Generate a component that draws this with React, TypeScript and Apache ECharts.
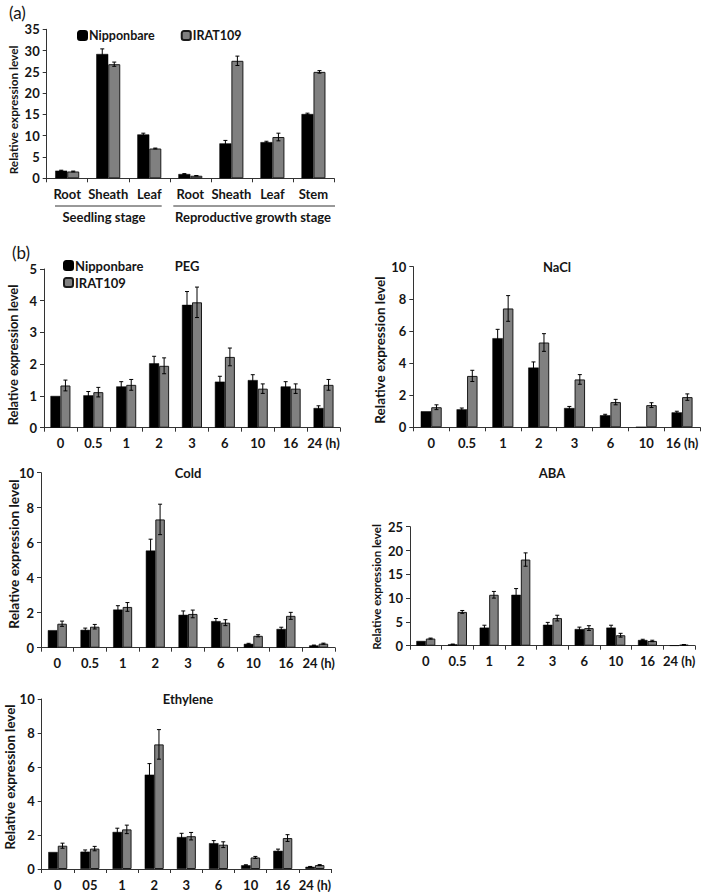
import React, { useEffect, useRef } from "react";
import * as echarts from "echarts";

// ---- Panel (a) ----
const catA = ["Root", "Sheath", "Leaf", "Root", "Sheath", "Leaf", "Stem"];
const aNip = [1.8, 29.2, 10.3, 1.0, 8.2, 8.5, 15.1];
const aNipErr = [0.1, 1.2, 0.3, 0.1, 0.7, 0.2, 0.2];
const aIr = [1.6, 26.8, 7.0, 0.6, 27.6, 9.7, 25.0];
const aIrErr = [0.1, 0.5, 0.1, 0.05, 1.1, 0.9, 0.3];

// ---- Panel (b) ----
const timesPEG = ["0", "0.5", "1", "2", "3", "6", "10", "16", "24 (h)"];
const pegNip = [1.0, 1.02, 1.3, 2.03, 3.87, 1.45, 1.5, 1.3, 0.62];
const pegNipErr = [0, 0.12, 0.15, 0.22, 0.42, 0.17, 0.17, 0.15, 0.07];
const pegIr = [1.33, 1.12, 1.35, 1.95, 3.95, 2.23, 1.23, 1.23, 1.35];
const pegIrErr = [0.17, 0.15, 0.17, 0.25, 0.48, 0.28, 0.15, 0.15, 0.17];

const timesNaCl = ["0", "0.5", "1", "2", "3", "6", "10", "16 (h)"];
const naclNip = [1.0, 1.12, 5.55, 3.72, 1.2, 0.75, 0.02, 0.93];
const naclNipErr = [0, 0.08, 0.55, 0.35, 0.1, 0.06, 0, 0.07];
const naclIr = [1.25, 3.2, 7.4, 5.28, 2.98, 1.57, 1.38, 1.88];
const naclIrErr = [0.15, 0.35, 0.8, 0.55, 0.3, 0.17, 0.15, 0.2];

const timesCold = ["0", "0.5", "1", "2", "3", "6", "10", "16", "24 (h)"];
const coldNip = [1.0, 1.02, 2.18, 5.55, 1.88, 1.52, 0.22, 1.07, 0.13];
const coldNipErr = [0, 0.1, 0.22, 0.65, 0.22, 0.15, 0.03, 0.1, 0.02];
const coldIr = [1.37, 1.2, 2.33, 7.33, 1.93, 1.43, 0.68, 1.82, 0.23];
const coldIrErr = [0.15, 0.13, 0.25, 0.87, 0.22, 0.17, 0.06, 0.2, 0.03];

const timesABA = ["0", "0.5", "1", "2", "3", "6", "10", "16", "24 (h)"];
const abaNip = [1.0, 0.3, 3.8, 10.7, 4.4, 3.5, 3.8, 1.2, 0.05];
const abaNipErr = [0, 0.05, 0.5, 1.3, 0.5, 0.4, 0.5, 0.15, 0];
const abaIr = [1.5, 7.1, 10.7, 18.1, 5.8, 3.7, 2.2, 1.0, 0.2];
const abaIrErr = [0.1, 0.3, 0.7, 1.4, 0.6, 0.5, 0.4, 0.15, 0.05];

const timesEth = ["0", "05", "1", "2", "3", "6", "10", "16", "24 (h)"];
const ethNip = [1.0, 1.02, 2.18, 5.55, 1.88, 1.52, 0.22, 1.07, 0.13];
const ethNipErr = [0, 0.1, 0.22, 0.65, 0.22, 0.15, 0.03, 0.1, 0.02];
const ethIr = [1.37, 1.2, 2.33, 7.33, 1.93, 1.43, 0.68, 1.82, 0.23];
const ethIrErr = [0.15, 0.13, 0.25, 0.87, 0.22, 0.17, 0.06, 0.2, 0.03];

const FONT = "Lato";
const TXT = "#151515";

type Panel = {
  cats: string[];
  nip: number[];
  nipErr: number[];
  ir: number[];
  irErr: number[];
  max: number;
  interval: number;
  grid: { left: number; top: number; width: number; height: number };
  bw: number;
  title?: { text: string; x: number; y: number };
  yName: { x: number; y: number; size: number };
};

const panels: Panel[] = [
  {
    cats: catA, nip: aNip, nipErr: aNipErr, ir: aIr, irErr: aIrErr,
    max: 35, interval: 5,
    grid: { left: 46.7, top: 29.3, width: 287.3, height: 149 }, bw: 12,
    yName: { x: 13, y: 110, size: 11.8 },
  },
  {
    cats: timesPEG, nip: pegNip, nipErr: pegNipErr, ir: pegIr, irErr: pegIrErr,
    max: 5, interval: 1,
    grid: { left: 44, top: 269, width: 296, height: 158.7 }, bw: 10,
    title: { text: "PEG", x: 187, y: 266 },
    yName: { x: 13, y: 355, size: 12.9 },
  },
  {
    cats: timesNaCl, nip: naclNip, nipErr: naclNipErr, ir: naclIr, irErr: naclIrErr,
    max: 10, interval: 2,
    grid: { left: 413.3, top: 266.7, width: 286.7, height: 160.6 }, bw: 10.5,
    title: { text: "NaCl", x: 557, y: 267 },
    yName: { x: 380, y: 350, size: 13.5 },
  },
  {
    cats: timesCold, nip: coldNip, nipErr: coldNipErr, ir: coldIr, irErr: coldIrErr,
    max: 10, interval: 2,
    grid: { left: 41, top: 472.7, width: 294, height: 175 }, bw: 9.5,
    title: { text: "Cold", x: 188, y: 473 },
    yName: { x: 13.5, y: 554, size: 13.7 },
  },
  {
    cats: timesABA, nip: abaNip, nipErr: abaNipErr, ir: abaIr, irErr: abaIrErr,
    max: 25, interval: 5,
    grid: { left: 410, top: 526.7, width: 285, height: 119 }, bw: 9.5,
    title: { text: "ABA", x: 552, y: 473 },
    yName: { x: 376, y: 587, size: 11.5 },
  },
  {
    cats: timesEth, nip: ethNip, nipErr: ethNipErr, ir: ethIr, irErr: ethIrErr,
    max: 10, interval: 2,
    grid: { left: 41.7, top: 699, width: 289.3, height: 170 }, bw: 9.5,
    title: { text: "Ethylene", x: 188, y: 699 },
    yName: { x: 9.5, y: 777, size: 13.3 },
  },
];

function buildOption() {
  const grids: any[] = [];
  const xAxes: any[] = [];
  const yAxes: any[] = [];
  const series: any[] = [];
  const graphics: any[] = [];

  panels.forEach((p, k) => {
    grids.push({ ...p.grid, outerBoundsMode: "none", containLabel: false });
    xAxes.push({
      type: "category",
      gridIndex: k,
      data: p.cats,
      axisLine: { show: true, lineStyle: { color: "#333", width: 1 } },
      axisTick: { show: true, length: 4, lineStyle: { color: "#333" } },
      axisLabel: {
        color: TXT, fontFamily: FONT, fontWeight: "bold", fontSize: 13,
        margin: 9, interval: 0,
      },
    });
    yAxes.push({
      type: "value",
      gridIndex: k,
      min: 0,
      max: p.max,
      interval: p.interval,
      splitLine: { show: false },
      axisLine: { show: true, lineStyle: { color: "#333", width: 1 } },
      axisTick: { show: true, length: 4, lineStyle: { color: "#333" } },
      axisLabel: {
        color: TXT, fontFamily: FONT, fontWeight: "bold", fontSize: 13, margin: 7,
      },
    });
    series.push({
      type: "bar", name: "Nipponbare", xAxisIndex: k, yAxisIndex: k,
      data: p.nip, barWidth: p.bw, barGap: "0%",
      itemStyle: { color: "#000", borderColor: "#000", borderWidth: 0.5 },
    });
    series.push({
      type: "bar", name: "IRAT109", xAxisIndex: k, yAxisIndex: k,
      data: p.ir, barWidth: p.bw, barGap: "0%",
      itemStyle: { color: "#808080", borderColor: "#1a1a1a", borderWidth: 1 },
    });
    const errData: number[][] = [];
    p.nip.forEach((v, i) => errData.push([i, v, p.nipErr[i], 0]));
    p.ir.forEach((v, i) => errData.push([i, v, p.irErr[i], 1]));
    const bw = p.bw;
    series.push({
      type: "custom",
      xAxisIndex: k,
      yAxisIndex: k,
      data: errData,
      encode: { x: 0, y: 1 },
      z: 10,
      clip: false,
      silent: true,
      renderItem: (params: any, api: any) => {
        const i = api.value(0);
        const v = api.value(1);
        const e = api.value(2);
        const s = api.value(3);
        if (!(e > 0)) return null;
        const c = api.coord([i, v]);
        const x = c[0] + (s === 0 ? -bw / 2 : bw / 2);
        const top = api.coord([i, v + e])[1];
        const bot = api.coord([i, Math.max(0, v - e)])[1];
        const st = { stroke: "#000", lineWidth: 1 };
        const cw = 2;
        return {
          type: "group",
          children: [
            { type: "line", shape: { x1: x, y1: top, x2: x, y2: bot }, style: st },
            { type: "line", shape: { x1: x - cw, y1: top, x2: x + cw, y2: top }, style: st },
            { type: "line", shape: { x1: x - cw, y1: bot, x2: x + cw, y2: bot }, style: st },
          ],
        };
      },
    });
    graphics.push({
      type: "text",
      x: p.yName.x,
      y: p.yName.y,
      rotation: Math.PI / 2,
      style: {
        text: "Relative expression level",
        fill: TXT, font: `bold ${p.yName.size}px ${FONT}`, align: "center", verticalAlign: "middle",
      },
    });
    if (p.title) {
      graphics.push({
        type: "text",
        x: p.title.x,
        y: p.title.y,
        style: {
          text: p.title.text, fill: TXT, font: `bold 13px ${FONT}`,
          align: "center", verticalAlign: "middle",
        },
      });
    }
  });

  // panel labels
  graphics.push({
    type: "text", x: 9, y: 12,
    style: { text: "(a)", fill: TXT, font: `17px ${FONT}`, align: "left", verticalAlign: "middle" },
  });
  graphics.push({
    type: "text", x: 12, y: 252,
    style: { text: "(b)", fill: TXT, font: `17px ${FONT}`, align: "left", verticalAlign: "middle" },
  });
  // group lines for panel (a)
  graphics.push({
    type: "line", shape: { x1: 55, y1: 206, x2: 161.7, y2: 206 },
    style: { stroke: "#333", lineWidth: 1 },
  });
  graphics.push({
    type: "line", shape: { x1: 173.3, y1: 206, x2: 335, y2: 206 },
    style: { stroke: "#333", lineWidth: 1 },
  });
  graphics.push({
    type: "text", x: 104, y: 217,
    style: { text: "Seedling stage", fill: TXT, font: `bold 13px ${FONT}`, align: "center", verticalAlign: "middle" },
  });
  graphics.push({
    type: "text", x: 253, y: 217,
    style: { text: "Reproductive growth stage", fill: TXT, font: `bold 13px ${FONT}`, align: "center", verticalAlign: "middle" },
  });

  return {
    animation: false,
    backgroundColor: "#fff",
    textStyle: { fontFamily: FONT },
    grid: grids,
    xAxis: xAxes,
    yAxis: yAxes,
    series,
    graphic: graphics,
    legend: [
      {
        data: ["Nipponbare", "IRAT109"],
        orient: "horizontal",
        left: 77,
        top: 29,
        padding: 0,
        itemWidth: 9,
        itemHeight: 9,
        itemGap: 26,
        selectedMode: false,
        textStyle: { color: TXT, fontFamily: FONT, fontWeight: "bold", fontSize: 12.5, padding: [0, 0, 0, -3] },
      },
      {
        data: ["Nipponbare", "IRAT109"],
        orient: "vertical",
        left: 63,
        top: 259,
        padding: 0,
        itemWidth: 9,
        itemHeight: 9,
        itemGap: 4,
        selectedMode: false,
        textStyle: { color: TXT, fontFamily: FONT, fontWeight: "bold", fontSize: 13, padding: [0, 0, 0, -3] },
      },
    ],
  };
}

export default function App() {
  const ref = useRef<HTMLDivElement>(null);
  useEffect(() => {
    if (!ref.current) return;
    const chart = echarts.init(ref.current, undefined, { renderer: "svg" });
    chart.setOption(buildOption() as any);
    return () => chart.dispose();
  }, []);
  return (
    <div
      ref={ref}
      style={{ position: "fixed", left: 0, top: 0, width: 709, height: 892, background: "#fff" }}
    />
  );
}
